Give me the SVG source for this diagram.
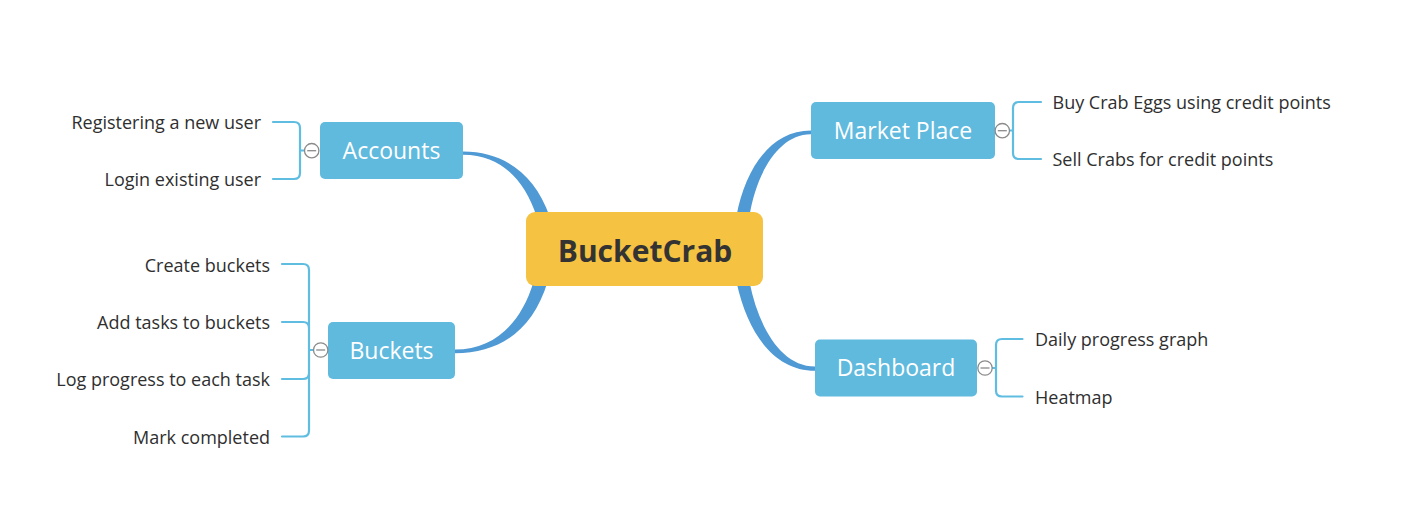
<svg xmlns="http://www.w3.org/2000/svg" width="1402" height="530" viewBox="0 0 1402 530">
<defs>
<style>
.main{fill:#4f99d5;stroke:none}
.brk{fill:none;stroke:#5fbde1;stroke-width:2.2;stroke-linecap:round}
.node{fill:#5fbade}
.lbl{font-family:"Open Sans","Noto Sans",sans-serif;font-size:23px;fill:#ffffff;text-anchor:middle}
.leaf{font-family:"Open Sans","Noto Sans",sans-serif;font-size:18px;fill:#2f2f2f}
.leafR{text-anchor:end}
.tog circle{fill:#ffffff;stroke:#8a8a8a;stroke-width:1.3}
.tog line{stroke:#8a8a8a;stroke-width:1.3}
</style>
</defs>
<rect width="1402" height="530" fill="#ffffff"/>
<g id="connectors">
<path class="main" d="M463,151.5 C505,151.5 535,175 549.5,216 L536.5,216 C525,182 503,155 463,154.8 Z"/>
<path class="main" d="M455,353.3 C500,353.3 533,330 547.5,282 L533.5,282 C521,323 495,349.5 455,349.5 Z"/>
<path class="main" d="M811,130.5 C770,130.5 745,170 736.5,216 L749.5,216 C756,175 778,134 811,134.3 Z"/>
<path class="main" d="M815,370.7 C775,370.7 748,335 736.5,282 L749.5,282 C758,325 780,366.5 815,366.5 Z"/>
<path class="brk" d="M273,122 H294 Q300,122 300,128 V173 Q300,179 294,179 H273 M300,150.5 H305"/>
<path class="brk" d="M282,264 H303 Q309,264 309,270 V430.5 Q309,436.5 303,436.5 H282 M282,322 H303 Q309,322 309,328 M282,379 H303 Q309,379 309,373 M309,350 H314"/>
<path class="brk" d="M1041,102 H1019 Q1013,102 1013,108 V153 Q1013,159 1019,159 H1041 M1009,130.5 H1013"/>
<path class="brk" d="M1022.5,339 H1002 Q996,339 996,345 V390.5 Q996,396.5 1002,396.5 H1022.5 M992,368 H996"/>
</g>
<g id="central">
<rect x="526" y="212" width="237" height="74" rx="9" fill="#f5c242"/>
<text x="645" y="262" font-family="'Open Sans','Noto Sans',sans-serif" font-size="30" font-weight="bold" fill="#333333" text-anchor="middle">BucketCrab</text>
</g>
<g id="accounts">
<rect class="node" x="320" y="122" width="143" height="57" rx="5"/>
<text class="lbl" x="391.5" y="159">Accounts</text>
<g class="tog"><circle cx="311.7" cy="150.7" r="7.2"/><line x1="307.2" y1="150.7" x2="316.2" y2="150.7"/></g>
</g>
<g id="acc-reg"><text class="leaf leafR" x="261" y="129">Registering a new user</text></g>
<g id="acc-login"><text class="leaf leafR" x="261" y="186">Login existing user</text></g>
<g id="buckets">
<rect class="node" x="328" y="322" width="127" height="57" rx="5"/>
<text class="lbl" x="391.5" y="358.5">Buckets</text>
<g class="tog"><circle cx="320.7" cy="350" r="7.2"/><line x1="316.2" y1="350" x2="325.2" y2="350"/></g>
</g>
<g id="b-create"><text class="leaf leafR" x="270" y="271.5">Create buckets</text></g>
<g id="b-add"><text class="leaf leafR" x="270" y="329">Add tasks to buckets</text></g>
<g id="b-log"><text class="leaf leafR" x="270" y="386">Log progress to each task</text></g>
<g id="b-mark"><text class="leaf leafR" x="270" y="444">Mark completed</text></g>
<g id="market">
<rect class="node" x="811" y="102" width="184" height="57" rx="5"/>
<text class="lbl" x="903" y="139">Market Place</text>
<g class="tog"><circle cx="1002.3" cy="130.7" r="7.2"/><line x1="997.8" y1="130.7" x2="1006.8" y2="130.7"/></g>
</g>
<g id="m-buy"><text class="leaf" x="1052.5" y="108.5">Buy Crab Eggs using credit points</text></g>
<g id="m-sell"><text class="leaf" x="1052.5" y="165.5">Sell Crabs for credit points</text></g>
<g id="dashboard">
<rect class="node" x="815" y="339.5" width="162" height="57" rx="5"/>
<text class="lbl" x="896" y="375.5">Dashboard</text>
<g class="tog"><circle cx="985" cy="368" r="7.2"/><line x1="980.5" y1="368" x2="989.5" y2="368"/></g>
</g>
<g id="d-daily"><text class="leaf" x="1035" y="346">Daily progress graph</text></g>
<g id="d-heat"><text class="leaf" x="1035" y="403.5">Heatmap</text></g>
</svg>
